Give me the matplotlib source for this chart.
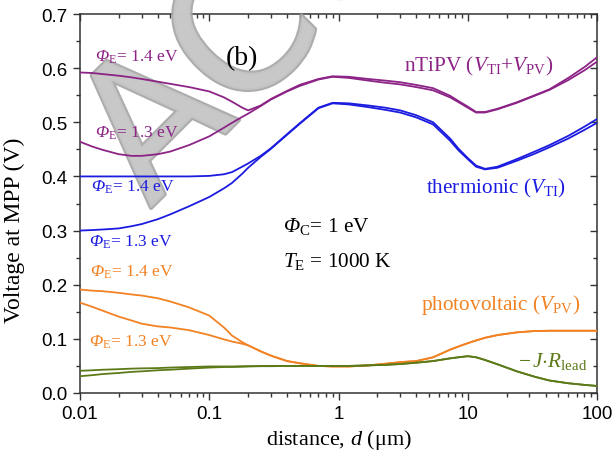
import matplotlib
matplotlib.use("Agg")
import matplotlib.pyplot as plt
from matplotlib.ticker import LogLocator, MultipleLocator, FixedLocator, NullFormatter
import matplotlib.patheffects as pe

plt.rcParams['font.family'] = ['Liberation Serif', 'DejaVu Serif']
plt.rcParams['mathtext.fontset'] = 'custom'
plt.rcParams['mathtext.rm'] = 'Liberation Serif'
plt.rcParams['mathtext.it'] = 'Liberation Serif:italic'
plt.rcParams['mathtext.sf'] = 'Liberation Serif:italic'
plt.rcParams['mathtext.bf'] = 'Liberation Serif:bold'

# ---------------- data ----------------
d = [0.01, 0.0125, 0.015, 0.02, 0.025, 0.03, 0.04, 0.05, 0.07, 0.1, 0.13, 0.15, 0.18, 0.2,
     0.25, 0.3, 0.4, 0.5, 0.7, 0.9, 1.2, 1.7, 2.3, 3, 4, 5.4, 7.3, 8.5, 10, 11.6, 13.6, 17,
     24, 33, 43, 60, 80, 100]

ntipv_14 = [0.592, 0.591, 0.589, 0.586, 0.583, 0.580, 0.575, 0.571, 0.565, 0.557, 0.546, 0.538,
            0.527, 0.522, 0.531, 0.543, 0.558, 0.569, 0.580, 0.585, 0.584, 0.580, 0.577, 0.574,
            0.569, 0.563, 0.549, 0.539, 0.529, 0.519, 0.519, 0.525, 0.537, 0.550, 0.561, 0.582,
            0.602, 0.620]
ntipv_13 = [0.464, 0.455, 0.449, 0.441, 0.438, 0.438, 0.441, 0.446, 0.458, 0.474, 0.490, 0.499,
            0.510, 0.516, 0.530, 0.542, 0.557, 0.567, 0.579, 0.584, 0.582, 0.577, 0.573, 0.570,
            0.565, 0.559, 0.546, 0.537, 0.527, 0.518, 0.518, 0.524, 0.536, 0.549, 0.560, 0.578,
            0.596, 0.612]

therm_14 = [0.400, 0.400, 0.400, 0.400, 0.400, 0.400, 0.400, 0.400, 0.400, 0.401, 0.404, 0.408,
            0.418, 0.424, 0.438, 0.452, 0.478, 0.498, 0.527, 0.536, 0.535, 0.531, 0.527, 0.522,
            0.513, 0.500, 0.470, 0.451, 0.434, 0.420, 0.414, 0.418, 0.432, 0.446, 0.458, 0.475,
            0.492, 0.506]
therm_13 = [0.300, 0.301, 0.302, 0.304, 0.308, 0.312, 0.321, 0.330, 0.345, 0.362, 0.378, 0.388,
            0.405, 0.416, 0.436, 0.451, 0.477, 0.497, 0.526, 0.535, 0.533, 0.528, 0.523, 0.518,
            0.509, 0.496, 0.466, 0.448, 0.432, 0.418, 0.413, 0.416, 0.429, 0.442, 0.454, 0.470,
            0.486, 0.499]

pv_14 = [0.191, 0.189, 0.188, 0.185, 0.182, 0.180, 0.175, 0.169, 0.158, 0.143, 0.121, 0.106,
         0.094, 0.088, 0.077, 0.069, 0.059, 0.055, 0.050, 0.049, 0.049, 0.051, 0.054, 0.057,
         0.059, 0.066, 0.080, 0.086, 0.092, 0.097, 0.102, 0.107, 0.112, 0.1145, 0.115, 0.115,
         0.115, 0.115]
pv_13 = [0.167, 0.159, 0.152, 0.141, 0.134, 0.128, 0.123, 0.121, 0.116, 0.107, 0.099, 0.095,
         0.091, 0.088, 0.077, 0.069, 0.059, 0.055, 0.050, 0.049, 0.049, 0.051, 0.054, 0.057,
         0.059, 0.066, 0.080, 0.086, 0.092, 0.097, 0.102, 0.107, 0.112, 0.1145, 0.115, 0.115,
         0.115, 0.115]

jr_14 = [0.041, 0.042, 0.043, 0.044, 0.045, 0.0455, 0.046, 0.047, 0.048, 0.049, 0.049, 0.049,
         0.0495, 0.0495, 0.050, 0.050, 0.050, 0.050, 0.050, 0.050, 0.050, 0.051, 0.052, 0.0535,
         0.056, 0.059, 0.064, 0.066, 0.068, 0.066, 0.061, 0.053, 0.040, 0.030, 0.023, 0.018,
         0.015, 0.013]
jr_13 = [0.031, 0.033, 0.035, 0.037, 0.039, 0.040, 0.042, 0.043, 0.045, 0.047, 0.048, 0.048,
         0.0485, 0.049, 0.0495, 0.0495, 0.050, 0.050, 0.050, 0.050, 0.050, 0.051, 0.052, 0.0535,
         0.056, 0.059, 0.064, 0.066, 0.068, 0.066, 0.061, 0.053, 0.040, 0.030, 0.023, 0.018,
         0.015, 0.013]

x_ticks = [0.01, 0.1, 1, 10, 100]
x_ticklabels = ['0.01', '0.1', '1', '10', '100']
y_ticks = [0.0, 0.1, 0.2, 0.3, 0.4, 0.5, 0.6, 0.7]
y_ticklabels = ['0.0', '0.1', '0.2', '0.3', '0.4', '0.5', '0.6', '0.7']

# ---------------- styling ----------------
c_purple = '#8c2386'
c_blue = '#1c1ce0'
c_orange = '#f28223'
c_green = '#5d7a19'
lw = 1.3

fig = plt.figure(figsize=(6.14, 4.64), dpi=100)
ax = fig.add_axes([80 / 614, 1 - 394 / 464, (597 - 80) / 614, (394 - 15) / 464])

ax.plot(d, ntipv_14, color=c_purple, lw=lw, zorder=3)
ax.plot(d, ntipv_13, color=c_purple, lw=lw, zorder=3)
ax.plot(d, therm_14, color=c_blue, lw=lw, zorder=3)
ax.plot(d, therm_13, color=c_blue, lw=lw, zorder=3)
ax.plot(d, pv_14, color=c_orange, lw=lw, zorder=3)
ax.plot(d, pv_13, color=c_orange, lw=lw, zorder=3)
ax.plot(d, jr_14, color=c_green, lw=lw, zorder=3)
ax.plot(d, jr_13, color=c_green, lw=lw, zorder=3)

ax.set_xscale('log')
ax.set_xlim(0.01, 100)
ax.set_ylim(0, 0.7)

ax.xaxis.set_major_locator(FixedLocator(x_ticks))
ax.set_xticklabels(x_ticklabels)
ax.xaxis.set_minor_locator(LogLocator(base=10, subs=range(2, 10), numticks=20))
ax.xaxis.set_minor_formatter(NullFormatter())
ax.yaxis.set_major_locator(FixedLocator(y_ticks))
ax.set_yticklabels(y_ticklabels)
ax.yaxis.set_minor_locator(MultipleLocator(0.05))

for sp in ax.spines.values():
    sp.set_linewidth(1.1)
    sp.set_color('#333333')

ax.tick_params(axis='both', which='major', direction='out', length=5, width=1.0,
               labelsize=13.5, color='#333333', pad=4)
ax.tick_params(axis='both', which='minor', direction='out', length=3, width=1.0, color='#333333')
for lab in ax.get_xticklabels() + ax.get_yticklabels():
    lab.set_fontfamily('Liberation Sans')

# mirrored ticks inward on top / right
secx = ax.secondary_xaxis('top')
secx.xaxis.set_major_locator(FixedLocator(x_ticks))
secx.xaxis.set_minor_locator(LogLocator(base=10, subs=range(2, 10), numticks=20))
secx.tick_params(which='major', direction='in', length=5, width=1.0, labeltop=False, color='#333333')
secx.tick_params(which='minor', direction='in', length=3, width=1.0, color='#333333')
secx.xaxis.set_major_formatter(NullFormatter())
secx.xaxis.set_minor_formatter(NullFormatter())
secx.spines['top'].set_visible(False)

secy = ax.secondary_yaxis('right')
secy.yaxis.set_major_locator(FixedLocator(y_ticks))
secy.yaxis.set_minor_locator(MultipleLocator(0.05))
secy.tick_params(which='major', direction='in', length=5, width=1.0, labelright=False, color='#333333')
secy.tick_params(which='minor', direction='in', length=3, width=1.0, color='#333333')
secy.yaxis.set_major_formatter(NullFormatter())
secy.spines['right'].set_visible(False)

ax.set_ylabel('Voltage at MPP (V)', fontsize=17)
ax.yaxis.set_label_coords(-0.106, 0.433)
ax.set_xlabel(r'distance, $d$ (μm)', fontsize=16, labelpad=3)

fs_small = 12.5
fs = 15.3
phiE = r'$\mathsf{Φ}_{\rm E}$'
# left-side labels
ax.text(0.0131, 0.622, phiE + '= 1.4 eV', color=c_purple, fontsize=fs_small,
        ha='left', va='center', zorder=4)
ax.text(0.0131, 0.482, phiE + '= 1.3 eV', color=c_purple, fontsize=fs_small,
        ha='left', va='center', zorder=4)
ax.text(0.0122, 0.382, phiE + '= 1.4 eV', color=c_blue, fontsize=fs_small,
        ha='left', va='center', zorder=4)
ax.text(0.0118, 0.281, phiE + '= 1.3 eV', color=c_blue, fontsize=fs_small,
        ha='left', va='center', zorder=4)
ax.text(0.0120, 0.225, phiE + '= 1.4 eV', color=c_orange, fontsize=fs_small,
        ha='left', va='center', zorder=4)
ax.text(0.0118, 0.096, phiE + '= 1.3 eV', color=c_orange, fontsize=fs_small,
        ha='left', va='center', zorder=4)

ax.text(0.18, 0.619, '(b)', color='black', fontsize=20, ha='center', va='center', zorder=4)
ax.text(0.37, 0.31, r'$\mathsf{Φ}_{\rm C}$= 1 eV', color='black', fontsize=fs,
        ha='left', va='center', zorder=4)
ax.text(0.37, 0.244, r'$\mathit{T}_{\rm E}$ = 1000 K', color='black', fontsize=fs,
        ha='left', va='center', zorder=4)

ax.text(46, 0.604, r'nTiPV ($\mathit{V}_{\rm TI}$+$\mathit{V}_{\rm PV}$)', color=c_purple,
        fontsize=fs, ha='right', va='center', zorder=4)
ax.text(58, 0.380, r'thermionic ($\mathit{V}_{\rm TI}$)', color=c_blue,
        fontsize=fs, ha='right', va='center', zorder=4)
ax.text(74, 0.164, r'photovoltaic ($\mathit{V}_{\rm PV}$)', color=c_orange,
        fontsize=fs, ha='right', va='center', zorder=4)
ax.text(85, 0.060, r'$-\,\mathit{J}{\cdot}\mathit{R}_{\rm lead}$', color=c_green,
        fontsize=fs, ha='right', va='center', zorder=4)

# watermark
ax.text(150 / 614, 1 - 210 / 464, 'ACCEPTED', transform=fig.transFigure, fontsize=134,
        family='DejaVu Sans', color='#c8c8c8', alpha=0.9, rotation=45,
        rotation_mode='anchor', ha='left', va='baseline', zorder=2.6, clip_on=False,
        path_effects=[pe.withStroke(linewidth=3, foreground='#a4a4a4')])

fig.savefig('out.png', dpi=100)
